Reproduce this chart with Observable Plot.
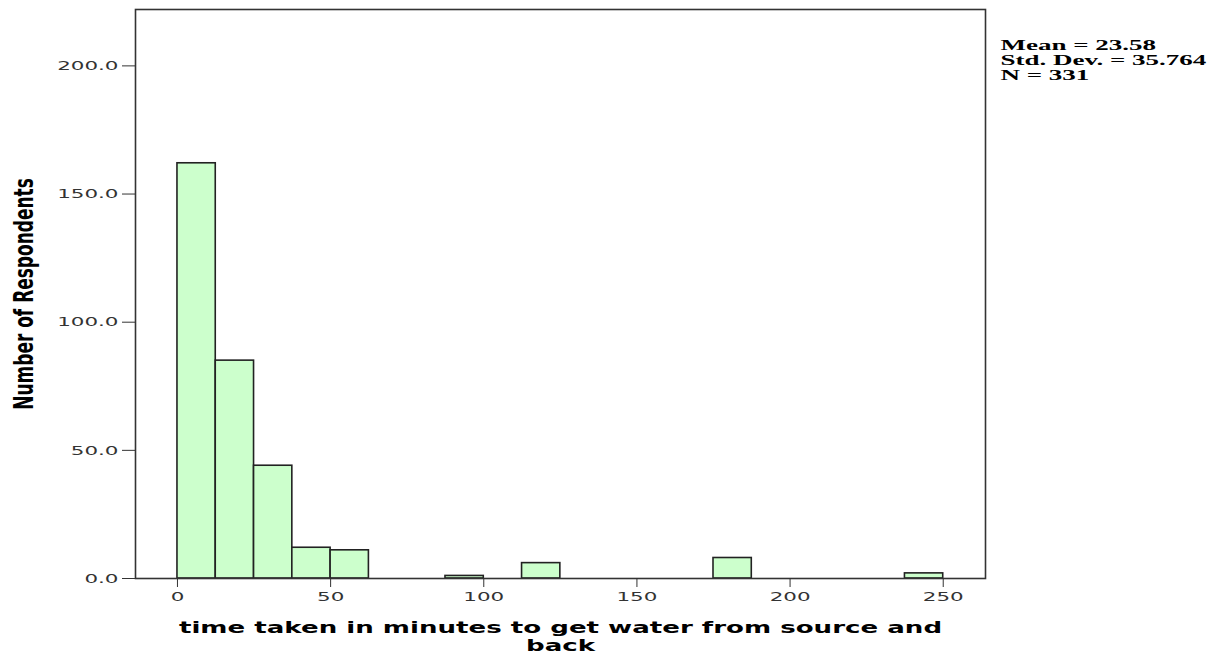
<!DOCTYPE html>
<html>
<head>
<meta charset="utf-8">
<script src="https://cdn.jsdelivr.net/npm/d3@7"></script>
<script src="https://cdn.jsdelivr.net/npm/@observablehq/plot@0.6"></script>
<style>
  html, body { margin: 0; padding: 0; background: #ffffff; }
  #chart { width: 1220px; height: 660px; overflow: hidden; }
</style>
</head>
<body>
<div id="chart"></div>
<script>
// Histogram bins (minutes) and counts
const binStart = [0, 12.5, 25, 37.5, 50, 87.5, 112.5, 175, 237.5];
const binEnd   = [12.5, 25, 37.5, 50, 62.5, 100, 125, 187.5, 250];
const counts   = [162, 85, 44, 12, 11, 1, 6, 8, 2];

const xTicks = [0, 50, 100, 150, 200, 250];
const yTicks = [0, 50, 100, 150, 200];

const xTitle = "time taken in minutes to get water from source and\nback";
const yTitle = "Number of Respondents";
const statLines = ["Mean = 23.58", "Std. Dev. = 35.764", "N = 331"];

const bins = binStart.map((s, i) => ({x1: s, x2: binEnd[i], count: counts[i]}));
const xFmt = d => String(d);
const yFmt = d => d.toFixed(1);

const chart = Plot.plot({
  width: 1220,
  height: 660,
  marginLeft: 135,
  marginRight: 235,
  marginTop: 9,
  marginBottom: 82,
  style: {fontFamily: "DejaVu Sans", fontSize: "13px", background: "#ffffff", overflow: "visible"},
  x: {domain: [-13.7, 263.8], axis: null},
  y: {domain: [0, 222], axis: null},
  marks: [
    Plot.rectY(bins, {x1: "x1", x2: "x2", y: "count", fill: "#ccffcc", stroke: "#222", strokeWidth: 1.6}),
    Plot.frame({stroke: "#333", strokeWidth: 1.6}),
    Plot.axisX({ticks: xTicks, tickFormat: xFmt, tickSize: 9, tickPadding: 4,
      stroke: "#333", fill: "#333", label: null}),
    Plot.axisY({ticks: yTicks, tickFormat: yFmt, tickSize: 13, tickPadding: 4,
      stroke: "#333", fill: "#333", label: null}),
    Plot.text([xTitle], {frameAnchor: "bottom", dy: 42, lineAnchor: "top", textAnchor: "middle",
      fontFamily: "DejaVu Sans", fontWeight: "bold", fontSize: 16, lineHeight: 1.125, fill: "#000"}),
    Plot.text([yTitle], {frameAnchor: "left", dx: -111, rotate: -90, textAnchor: "middle", lineAnchor: "middle",
      fontFamily: "DejaVu Sans", fontWeight: "bold", fontSize: 17, fill: "#000"}),
    Plot.text([statLines.join("\n")], {frameAnchor: "top-right", dx: 15, dy: 30, textAnchor: "start", lineAnchor: "top",
      fontFamily: "Liberation Serif", fontWeight: "bold", fontSize: 15, lineHeight: 1.0, fill: "#000"})
  ]
});

document.getElementById("chart").appendChild(chart);

// The reference image is stretched horizontally: widen the text glyphs the same way,
// about each text's own anchor point.
const xLabels = new Set(xTicks.map(xFmt));
const yLabels = new Set(yTicks.map(yFmt));
const texts = Array.from(chart.querySelectorAll("text"));
texts.forEach(el => {
  const s = el.textContent.trim();
  let sx = 0;
  if (xLabels.has(s) || yLabels.has(s)) sx = 1.65;
  else if (s.startsWith("time taken")) sx = 1.63;
  else if (s === yTitle) sx = 1.55;
  else if (s.startsWith("Mean")) sx = 1.8;
  if (!sx) return;
  const r = el.getBoundingClientRect();
  const anchor = getComputedStyle(el).textAnchor;
  const rotated = (el.getAttribute("transform") || "").includes("rotate(");
  let ax;
  if (rotated || anchor === "middle") ax = r.left + r.width / 2;
  else if (anchor === "end") ax = r.right;
  else ax = r.left;
  const ctm = el.parentNode.getScreenCTM();
  const px = ax - (ctm ? ctm.e : 0);
  const g = document.createElementNS("http://www.w3.org/2000/svg", "g");
  g.setAttribute("transform", `translate(${px},0) scale(${sx},1) translate(${-px},0)`);
  el.parentNode.insertBefore(g, el);
  g.appendChild(el);
});
</script>
</body>
</html>
